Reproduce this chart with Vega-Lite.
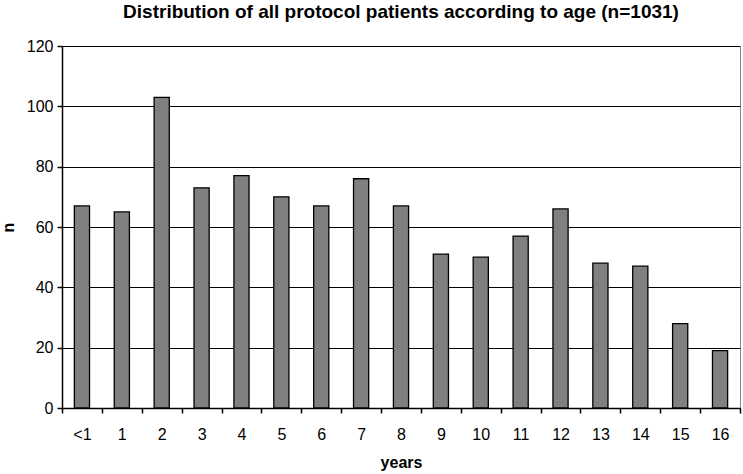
{
  "$schema": "https://vega.github.io/schema/vega-lite/v6.json",
  "autosize": "none",
  "padding": {"left": 62, "top": 46, "right": 3, "bottom": 66},
  "width": 678,
  "height": 362,
  "background": "white",
  "title": {
    "text": "Distribution of all protocol patients according to age (n=1031)",
    "font": "Liberation Sans",
    "fontSize": 19,
    "fontWeight": "bold",
    "color": "black",
    "anchor": "middle",
    "offset": 16
  },
  "config": {
    "view": {"stroke": "#888888", "strokeWidth": 1},
    "axis": {
      "labelFont": "Liberation Sans",
      "titleFont": "Liberation Sans",
      "labelColor": "black",
      "titleColor": "black",
      "labelFontSize": 16,
      "titleFontSize": 16,
      "titleFontWeight": "bold",
      "domainColor": "black",
      "tickColor": "black",
      "domainWidth": 1.5,
      "tickWidth": 1.5
    }
  },
  "data": {
    "values": [
      {"age": "<1", "n": 67},
      {"age": "1", "n": 65},
      {"age": "2", "n": 103},
      {"age": "3", "n": 73},
      {"age": "4", "n": 77},
      {"age": "5", "n": 70},
      {"age": "6", "n": 67},
      {"age": "7", "n": 76},
      {"age": "8", "n": 67},
      {"age": "9", "n": 51},
      {"age": "10", "n": 50},
      {"age": "11", "n": 57},
      {"age": "12", "n": 66},
      {"age": "13", "n": 48},
      {"age": "14", "n": 47},
      {"age": "15", "n": 28},
      {"age": "16", "n": 19}
    ]
  },
  "mark": {"type": "bar", "fill": "#808080", "stroke": "black", "strokeWidth": 1.3, "width": {"band": 0.38}},
  "encoding": {
    "x": {
      "field": "age",
      "type": "nominal",
      "sort": null,
      "scale": {"paddingInner": 0, "paddingOuter": 0},
      "axis": {
        "title": "years",
        "labelAngle": 0,
        "tickBand": "extent",
        "tickSize": 5,
        "labelPadding": 13,
        "titlePadding": 12,
        "grid": false
      }
    },
    "y": {
      "field": "n",
      "type": "quantitative",
      "scale": {"domain": [0, 120], "nice": false},
      "axis": {
        "title": "n",
        "values": [0, 20, 40, 60, 80, 100, 120],
        "grid": true,
        "gridColor": "black",
        "gridWidth": 1,
        "tickSize": 5,
        "labelPadding": 4,
        "titlePadding": 10,
        "titleAngle": -90
      }
    }
  }
}
